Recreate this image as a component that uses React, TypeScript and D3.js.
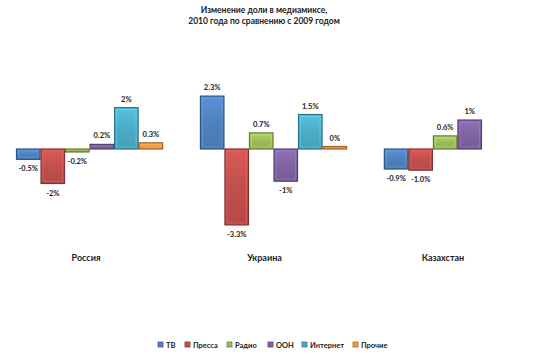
import React from "react";
import * as d3 from "d3";

const countries = ["Россия", "Украина", "Казахстан"];
const series = ["ТВ", "Пресса", "Радио", "ООН", "Интернет", "Прочие"];
const colors = ["#4F81BD", "#C0504D", "#9BBB59", "#8064A2", "#4BACC6", "#F79646"];
// bar heights as drawn (percentage points)
const russia = [-0.45, -1.5, -0.13, 0.2, 1.8, 0.27];
const ukraine = [2.3, -3.3, 0.7, -1.4, 1.5, 0.06];
const kazakhstan = [-0.87, -0.92, 0.57, 1.26, null, null];
// labels as printed
const russiaLabels = ["-0.5%", "-2%", "-0.2%", "0.2%", "2%", "0.3%"];
const ukraineLabels = ["2.3%", "-3.3%", "0.7%", "-1%", "1.5%", "0%"];
const kazakhstanLabels = ["-0.9%", "-1.0%", "0.6%", "1%", "", ""];
const titleLines = ["Изменение доли в медиамиксе,", "2010 года по сравнению с 2009 годом"];

const W = 540;
const H = 355;
const FONT = "Lato, 'Open Sans', sans-serif";

export default function App() {
  const values = [russia, ukraine, kazakhstan];
  const labels = [russiaLabels, ukraineLabels, kazakhstanLabels];

  const x0 = d3.scaleBand<string>().domain(countries).range([16, 531]).paddingInner(0.2).paddingOuter(0);
  const x1 = d3.scaleBand<string>().domain(series).range([0, x0.bandwidth()]).padding(0);
  const y = d3.scaleLinear().domain([-4, 3]).range([241, 80]);
  const xLabel = d3.scalePoint<string>().domain(countries).range([86, 443]);

  const legendX = [158, 185, 227, 268, 302, 353];

  return (
    <svg width={W} height={H} style={{ position: "absolute", left: 0, top: 0, background: "#fff" }} fontFamily={FONT}>
      <defs>
        {colors.map((c, i) => (
          <linearGradient key={i} id={`g${i}`} x1="0" y1="0" x2="0" y2="1">
            <stop offset="0" stopColor={d3.color(c)!.brighter(0.35).formatHex()} />
            <stop offset="0.5" stopColor={c} />
            <stop offset="1" stopColor={d3.color(c)!.darker(0.2).formatHex()} />
          </linearGradient>
        ))}
      </defs>
      <rect x={0} y={0} width={W} height={H} fill="#fff" />
      {titleLines.map((t, i) => (
        <text key={i} x={264} y={13 + i * 11} textAnchor="middle" fontSize={8.5} fontWeight="bold" fill="#222">
          {t}
        </text>
      ))}
      {countries.map((c, ci) => (
        <g key={c} transform={`translate(${x0(c)},0)`}>
          {series.map((s, si) => {
            const v = values[ci][si];
            if (v === null || v === undefined) return null;
            const bx = x1(s)!;
            const bw = x1.bandwidth();
            let top = y(Math.max(0, v));
            let bot = y(Math.min(0, v));
            if (bot - top < 2.5) {
              if (v >= 0) top = bot - 2.5;
              else bot = top + 2.5;
            }
            const h = bot - top;
            const col = colors[si];
            const dark = d3.color(col)!.darker(1.2).formatHex();
            const light = d3.color(col)!.brighter(0.8).formatHex();
            const lab = labels[ci][si];
            const ly = v >= 0 ? top - 6 : bot + 12;
            return (
              <g key={s}>
                <rect x={bx + 0.5} y={top} width={bw - 1} height={h} fill={`url(#g${si})`} stroke={dark} strokeWidth={1.2} />
                {h > 6 && (
                  <rect x={bx + 2.5} y={top + 2} width={bw - 5} height={h - 4} fill="none" stroke={light} strokeOpacity={0.55} strokeWidth={0.8} />
                )}
                {lab && (
                  <text x={bx + bw / 2} y={ly} textAnchor="middle" fontSize={7.5} fontWeight="bold" fill="#222">
                    {lab}
                  </text>
                )}
              </g>
            );
          })}
        </g>
      ))}
      {countries.map((c) => (
        <text key={c} x={xLabel(c)} y={261} textAnchor="middle" fontSize={9} fontWeight="bold" fill="#222">
          {c}
        </text>
      ))}
      {series.map((s, i) => (
        <g key={s} transform={`translate(${legendX[i]},342)`}>
          <rect x={0} y={0} width={5} height={5} fill={colors[i]} stroke={d3.color(colors[i])!.darker(1).formatHex()} strokeWidth={0.8} />
          <text x={8} y={5.5} fontSize={7.5} fontWeight="bold" fill="#222">
            {s}
          </text>
        </g>
      ))}
    </svg>
  );
}
